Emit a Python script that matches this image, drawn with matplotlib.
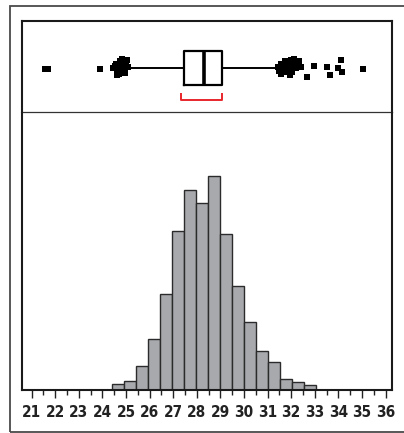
import matplotlib.pyplot as plt
from matplotlib.patches import Rectangle

# histogram bins (left edges) and bar heights
bin_left = [24.40, 24.91, 25.42, 25.93, 26.44, 26.95, 27.46, 27.97, 28.48,
            28.99, 29.50, 30.01, 30.52, 31.03, 31.54, 32.05, 32.56]
counts = [5.7, 9, 24, 51, 96, 159, 200, 187, 214,
          156, 104, 68, 39, 28, 11, 8, 5]

# box plot summary
q1, med, q3 = 27.47, 28.32, 29.08
whis_lo, whis_hi = 25.05, 31.45
short_half = [27.31, 29.08]

# outlier points (x value, vertical jitter)
out_x = [21.58, 21.68, 23.89,
         24.44, 24.52, 24.57, 24.62, 24.66, 24.70, 24.74, 24.78, 24.82,
         24.87, 24.91, 24.95, 25.00, 25.04, 25.08, 24.60, 24.84,
         31.44, 31.50, 31.56, 31.62, 31.69, 31.73, 31.80, 31.86, 31.92,
         31.99, 32.03, 32.07, 32.14, 32.20, 32.27, 32.33, 32.41, 31.58,
         31.95, 32.10,
         32.67, 32.96, 33.51, 33.64, 33.98, 34.11, 34.15, 35.05]
out_y = [0.47, 0.47, 0.47,
         0.48, 0.51, 0.53, 0.45, 0.47, 0.42, 0.56, 0.50, 0.58,
         0.47, 0.55, 0.43, 0.52, 0.57, 0.49, 0.41, 0.44,
         0.49, 0.45, 0.53, 0.50, 0.44, 0.56, 0.51, 0.47, 0.55,
         0.57, 0.44, 0.50, 0.54, 0.48, 0.52, 0.56, 0.49, 0.42,
         0.41, 0.58,
         0.38, 0.51, 0.50, 0.41, 0.48, 0.57, 0.44, 0.47]

ticks = list(range(21, 37))
xlim = (20.59, 36.27)

plt.rcParams['font.family'] = ['DejaVu Sans']

fig = plt.figure(figsize=[4.04, 4.33], dpi=100)

# outer frame
fig.patches.append(Rectangle((10 / 404, 1 - 432 / 433), 400 / 404, 426 / 433,
                             transform=fig.transFigure, fill=False,
                             edgecolor='#4a4a4a', linewidth=1.3))

# box plot panel
axb = fig.add_axes([22 / 404, 1 - 112 / 433, 370 / 404, 91 / 433])
axb.bxp([{'med': med, 'q1': q1, 'q3': q3, 'whislo': whis_lo,
          'whishi': whis_hi, 'fliers': []}],
        positions=[0.485], widths=0.37, vert=False, showfliers=False,
        showcaps=False,
        boxprops=dict(color='black', linewidth=1.6),
        whiskerprops=dict(color='black', linewidth=1.4),
        medianprops=dict(color='black', linewidth=2.6))
axb.scatter(out_x, out_y, marker='s', s=14, color='black', linewidths=0,
            zorder=3)
axb.plot([short_half[0], short_half[0], short_half[1], short_half[1]],
         [0.205, 0.132, 0.132, 0.205], color='#e8262b', linewidth=1.4,
         solid_capstyle='butt')
axb.set_xlim(*xlim)
axb.set_ylim(0, 1)
axb.set_xticks([])
axb.set_yticks([])
for s in ['left', 'top', 'right']:
    axb.spines[s].set_linewidth(1.5)
    axb.spines[s].set_color('#1a1a1a')
axb.spines['bottom'].set_linewidth(0.9)
axb.spines['bottom'].set_color('#333333')

# histogram panel
ax = fig.add_axes([22 / 404, 1 - 390 / 433, 370 / 404, 277 / 433])
ax.patch.set_visible(False)
ax.bar(bin_left, counts, width=0.51, align='edge', color='#a8a9ad',
       edgecolor='#2b2b2b', linewidth=1.0)
ax.set_xlim(*xlim)
ax.set_ylim(0, 277)
ax.set_yticks([])
ax.set_xticks(ticks)
ax.set_xticklabels([str(t) for t in ticks], fontsize=11, fontweight='bold',
                   fontstretch='condensed', family='DejaVu Sans',
                   color='#222222')
ax.set_xticks([t + 0.5 for t in ticks[:-1]], minor=True)
ax.tick_params(axis='x', which='major', length=6, width=1.0, pad=4.5,
               color='#222222')
ax.tick_params(axis='x', which='minor', length=3.5, width=1.0,
               color='#222222')
ax.spines['top'].set_visible(False)
for s in ['left', 'right', 'bottom']:
    ax.spines[s].set_linewidth(1.5)
    ax.spines[s].set_color('#1a1a1a')

fig.savefig('out.png', dpi=100)
